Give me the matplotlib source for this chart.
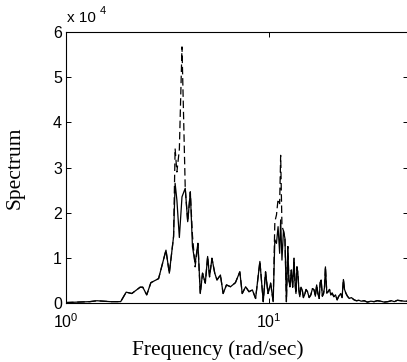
import numpy as np
from matplotlib import pyplot as plt
from matplotlib.ticker import FixedLocator, NullLocator

# frequency grid (rad/sec) and spectra (units of 1e4)
freq = [1.00, 1.31, 1.42, 1.65, 1.86, 1.98, 2.11, 2.32, 2.39, 2.50,
        2.62, 2.86, 3.11, 3.23, 3.39, 3.45, 3.52, 3.62, 3.73, 3.87,
        3.98, 4.10, 4.20, 4.33, 4.47, 4.59, 4.71, 4.86, 4.99, 5.10,
        5.24, 5.41, 5.55, 5.77, 5.95, 6.18, 6.47, 6.84, 7.19, 7.39,
        7.68, 7.98, 8.29, 8.60, 9.03, 9.38, 9.63, 9.90, 10.2, 10.5,
        10.7, 10.9, 11.1, 11.3, 11.43, 11.6, 11.8, 12.0, 12.2, 12.4,
        12.55, 12.7, 12.9, 13.1, 13.3, 13.45, 13.6, 13.75, 13.9, 14.05,
        14.2, 14.4, 14.6, 14.8, 15.0, 15.25, 15.5, 15.8, 16.1, 16.4,
        16.7, 16.95, 17.2, 17.45, 17.7, 17.9, 18.1, 18.35, 18.6, 18.8,
        19.0, 19.3, 19.6, 19.9, 20.2, 20.5, 20.9, 21.3, 21.7, 22.1,
        22.6, 22.95, 23.3, 23.6, 24.0, 24.4, 24.9, 25.5, 26.3, 27.0,
        27.8, 28.5, 29.5, 30.6, 31.8, 33.0, 34.2, 35.6, 37.0, 38.6,
        40.2, 41.5, 43.0, 44.8, 46.5, 48.3]

spec_est = [0.01, 0.03, 0.05, 0.03, 0.03, 0.24, 0.21, 0.35, 0.35, 0.18,
            0.45, 0.54, 1.17, 0.66, 1.47, 2.65, 2.28, 1.45, 2.35, 2.54,
            1.80, 2.46, 1.25, 0.88, 1.32, 0.21, 0.66, 0.44, 1.03, 0.58,
            0.99, 0.66, 0.51, 0.62, 0.21, 0.40, 0.36, 0.45, 0.69, 0.21,
            0.36, 0.25, 0.29, 0.10, 0.92, 0.03, 0.69, 0.21, 0.44, 0.03,
            1.40, 1.32, 1.69, 1.10, 1.84, 0.95, 1.60, 1.43, 0.03, 1.25,
            0.50, 0.36, 0.73, 0.35, 0.99, 0.45, 0.21, 0.80, 0.66, 0.30,
            0.14, 0.35, 0.29, 0.12, 0.18, 0.30, 0.25, 0.12, 0.18, 0.32,
            0.29, 0.15, 0.40, 0.20, 0.10, 0.45, 0.51, 0.15, 0.21, 0.35,
            0.80, 0.22, 0.25, 0.30, 0.18, 0.22, 0.14, 0.18, 0.07, 0.15,
            0.21, 0.12, 0.52, 0.30, 0.21, 0.15, 0.10, 0.12, 0.07, 0.05,
            0.06, 0.04, 0.05, 0.02, 0.04, 0.03, 0.05, 0.04, 0.02, 0.03,
            0.05, 0.03, 0.06, 0.05, 0.04, 0.04]

spec_true = [0.01, 0.03, 0.05, 0.03, 0.03, 0.24, 0.21, 0.35, 0.35, 0.18,
             0.45, 0.54, 1.17, 0.66, 1.47, 3.42, 2.90, 3.40, 5.67, 2.54,
             1.80, 2.46, 1.50, 0.80, 1.32, 0.21, 0.66, 0.44, 1.03, 0.58,
             0.99, 0.66, 0.51, 0.62, 0.21, 0.40, 0.36, 0.45, 0.69, 0.21,
             0.36, 0.25, 0.29, 0.10, 0.92, 0.03, 0.69, 0.21, 0.44, 0.03,
             1.80, 1.95, 2.30, 2.20, 3.27, 1.70, 1.60, 1.43, 0.03, 1.25,
             0.50, 0.36, 0.73, 0.35, 0.99, 0.45, 0.21, 0.80, 0.66, 0.30,
             0.14, 0.35, 0.29, 0.12, 0.18, 0.30, 0.25, 0.12, 0.18, 0.32,
             0.29, 0.15, 0.40, 0.20, 0.10, 0.45, 0.51, 0.15, 0.21, 0.35,
             0.80, 0.22, 0.25, 0.30, 0.18, 0.22, 0.14, 0.18, 0.07, 0.15,
             0.21, 0.12, 0.52, 0.30, 0.21, 0.15, 0.10, 0.12, 0.07, 0.05,
             0.06, 0.04, 0.05, 0.02, 0.04, 0.03, 0.05, 0.04, 0.02, 0.03,
             0.05, 0.03, 0.06, 0.05, 0.04, 0.04]

yticks = [0, 1, 2, 3, 4, 5, 6]

sans = 'Liberation Sans'
serif = 'Liberation Serif'
plt.rcParams['mathtext.fontset'] = 'custom'
plt.rcParams['mathtext.rm'] = sans
plt.rcParams['mathtext.it'] = sans

W, H = 407, 362
fig = plt.figure(figsize=(W / 100, H / 100), dpi=100)
ax = fig.add_axes([66 / W, 59 / H, 342 / W, 271 / H])

ax.plot(freq, spec_true, color='black', lw=0.9, dashes=(6, 3))
ax.plot(freq, spec_est, color='black', lw=0.9)

ax.set_xscale('log')
ax.set_xlim(1, 48.5)
ax.set_ylim(0, 6)
ax.xaxis.set_major_locator(FixedLocator([1, 10]))
ax.xaxis.set_minor_locator(NullLocator())
ax.set_xticklabels(['$10^0$', '$10^1$'])
ax.set_yticks(yticks)
ax.set_yticklabels([str(v) for v in yticks])

ax.tick_params(direction='in', top=True, right=True, length=3.5, width=0.7,
               labelsize=11.5)
for lab in ax.get_xticklabels() + ax.get_yticklabels():
    lab.set_fontfamily(sans)
ax.tick_params(axis='x', pad=6.5)
ax.tick_params(axis='y', pad=3)
for s in ax.spines.values():
    s.set_linewidth(0.8)

ax.set_xlabel('Frequency (rad/sec)', fontfamily=serif, fontsize=15.5)
ax.xaxis.set_label_coords((218 - 66) / 342, -(355 - 303) / 271)
ax.xaxis.label.set_va('baseline')
ax.set_ylabel('Spectrum', fontfamily=serif, fontsize=15.5)
ax.yaxis.set_label_coords(-(66 - 25) / 342, 0.5)
ax.yaxis.label.set_va('bottom')

ax.text(0.003, 1.025, 'x 10', transform=ax.transAxes, fontfamily=sans,
        fontsize=11, ha='left', va='bottom')
ax.text(0.1, 1.058, '4', transform=ax.transAxes, fontfamily=sans,
        fontsize=8, ha='left', va='bottom')

fig.savefig('out.png', dpi=100)
